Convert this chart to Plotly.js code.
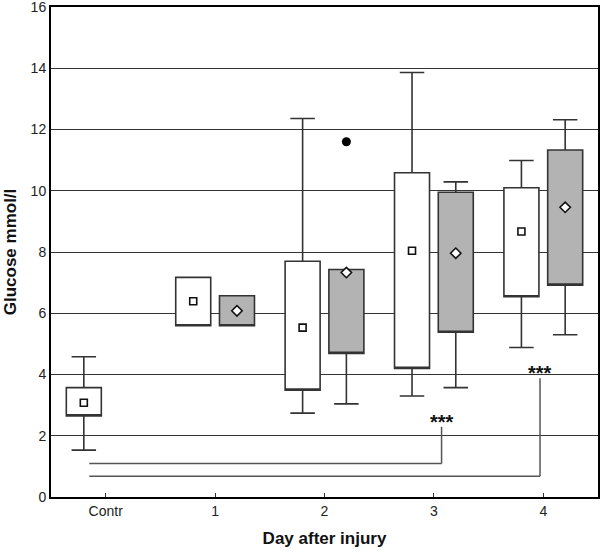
<!DOCTYPE html>
<html>
<head>
<meta charset="utf-8">
<script src="https://cdn.plot.ly/plotly-3.0.1.min.js"></script>
<style>html,body{margin:0;padding:0;background:#fff;}#chart{width:600px;height:552px;}</style>
</head>
<body>
<div id="chart"></div>
<script>
// Categories
var categories = ['Contr', '1', '2', '3', '4'];

// Group A (white boxes): Contr + days 1-4
var aX     = ['Contr', '1', '2', '3', '4'];
var aLow   = [1.53, 5.59, 2.74, 3.30, 4.88];
var aQ1    = [2.65, 5.59, 3.49, 4.20, 6.54];
var aQ3    = [3.57, 7.17, 7.70, 10.59, 10.10];
var aHigh  = [4.58, 7.17, 12.36, 13.86, 10.99];
var aMean  = [3.08, 6.39, 5.53, 8.04, 8.67];

// Group B (grey boxes): days 1-4
var bX     = ['1', '2', '3', '4'];
var bLow   = [5.59, 3.04, 3.57, 5.30];
var bQ1    = [5.59, 4.69, 5.38, 6.92];
var bQ3    = [6.57, 7.43, 9.95, 11.33];
var bHigh  = [6.57, 7.43, 10.29, 12.32];
var bMean  = [6.08, 7.33, 7.96, 9.46];

// Outlier (grey group, day 2)
var outX = ['2'];
var outY = [11.6];

// Significance labels
var sigText = ['***', '***'];

var boxLine = {color: '#333333', width: 1.6};

var traces = [
  {
    type: 'box', x: aX, q1: aQ1, median: aQ1, q3: aQ3,
    lowerfence: aLow, upperfence: aHigh,
    fillcolor: '#ffffff', line: boxLine, whiskerwidth: 0.7,
    boxpoints: false, hoverinfo: 'skip', showlegend: false
  },
  {
    type: 'box', x: bX, q1: bQ1, median: bQ1, q3: bQ3,
    lowerfence: bLow, upperfence: bHigh,
    fillcolor: '#b3b3b3', line: boxLine, whiskerwidth: 0.7,
    boxpoints: false, hoverinfo: 'skip', showlegend: false
  },
  {
    type: 'scatter', mode: 'markers', x: aX, y: aMean,
    offsetgroup: 'A', alignmentgroup: 'g',
    marker: {symbol: 'square', size: 7, color: '#ffffff', line: {color: '#111111', width: 1.6}},
    hoverinfo: 'skip', showlegend: false
  },
  {
    type: 'scatter', mode: 'markers', x: bX, y: bMean,
    offsetgroup: 'B', alignmentgroup: 'g',
    marker: {symbol: 'diamond', size: 8, color: '#ffffff', line: {color: '#111111', width: 1.6}},
    hoverinfo: 'skip', showlegend: false
  },
  {
    type: 'scatter', mode: 'markers', x: outX, y: outY,
    offsetgroup: 'B', alignmentgroup: 'g',
    marker: {symbol: 'circle', size: 9, color: '#000000'},
    hoverinfo: 'skip', showlegend: false
  }
];

var lineStyle = {color: '#555555', width: 1.5};

var layout = {
  width: 600, height: 552,
  margin: {l: 51, r: 2, t: 7, b: 55},
  paper_bgcolor: '#ffffff', plot_bgcolor: '#ffffff',
  boxmode: 'group', boxgap: 0.2, boxgroupgap: 0.2,
  scattermode: 'group', scattergap: 0.2,
  font: {family: 'Liberation Sans, Arial, sans-serif', color: '#222222', size: 14},
  xaxis: {
    type: 'category', categoryorder: 'array', categoryarray: categories,
    range: [-0.5, 4.5],
    showline: true, linecolor: '#000000', linewidth: 2, mirror: true,
    ticks: 'inside', ticklen: 4, tickcolor: '#333333', tickwidth: 1,
    showgrid: false, zeroline: false,
    tickfont: {size: 14, color: '#222222'},
    title: {text: 'Day after injury', font: {size: 17, color: '#111111', family: 'Liberation Sans, Arial, sans-serif', weight: 'bold'}, standoff: 14}
  },
  yaxis: {
    range: [0, 16], dtick: 2, tick0: 0,
    showline: true, linecolor: '#000000', linewidth: 2, mirror: true,
    ticks: '', showgrid: true, gridcolor: '#333333', gridwidth: 1,
    zeroline: false, ticklabeloverflow: 'allow',
    tickfont: {size: 14, color: '#222222'},
    title: {text: 'Glucose mmol/l', font: {size: 17, color: '#111111', family: 'Liberation Sans, Arial, sans-serif', weight: 'bold'}, standoff: 10}
  },
  shapes: [
    {type: 'line', xref: 'x', yref: 'y', x0: -0.15, x1: 3.07, y0: 1.09, y1: 1.09, line: lineStyle, layer: 'above'},
    {type: 'line', xref: 'x', yref: 'y', x0: 3.07, x1: 3.07, y0: 1.09, y1: 2.29, line: lineStyle, layer: 'above'},
    {type: 'line', xref: 'x', yref: 'y', x0: -0.15, x1: 3.97, y0: 0.68, y1: 0.68, line: lineStyle, layer: 'above'},
    {type: 'line', xref: 'x', yref: 'y', x0: 3.97, x1: 3.97, y0: 0.68, y1: 3.88, line: lineStyle, layer: 'above'}
  ],
  annotations: [
    {xref: 'x', yref: 'y', x: 3.07, y: 2.29, text: sigText[0], showarrow: false, yanchor: 'bottom', yshift: -8,
     font: {size: 20, color: '#111111', weight: 'bold'}},
    {xref: 'x', yref: 'y', x: 3.97, y: 3.88, text: sigText[1], showarrow: false, yanchor: 'bottom', yshift: -8,
     font: {size: 20, color: '#111111', weight: 'bold'}}
  ]
};

Plotly.newPlot('chart', traces, layout, {displayModeBar: false, staticPlot: true});
</script>
</body>
</html>
